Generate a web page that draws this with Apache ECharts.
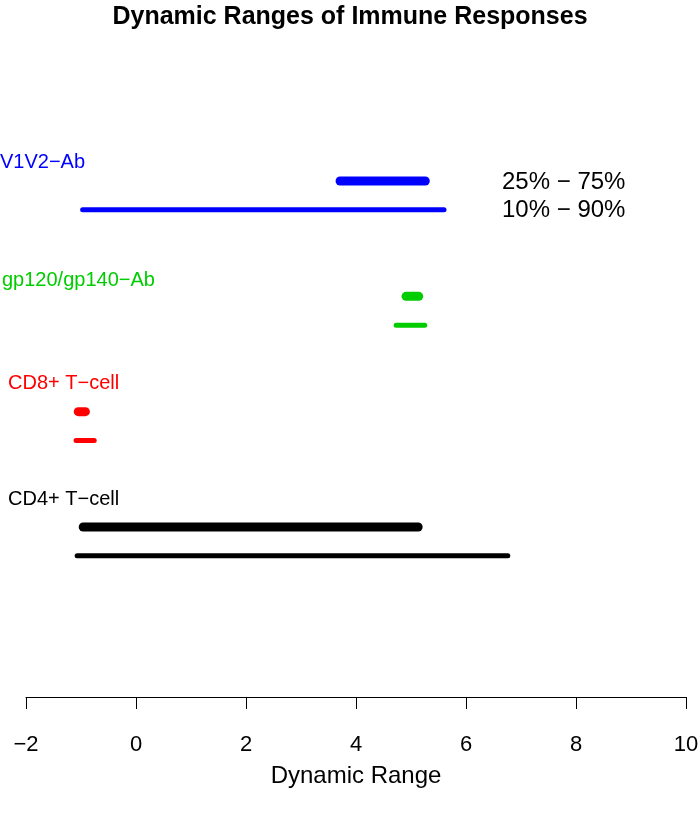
<!DOCTYPE html>
<html><head><meta charset="utf-8">
<script src="https://cdn.jsdelivr.net/npm/echarts@6/dist/echarts.min.js"></script>
<style>html,body{margin:0;padding:0;background:#fff}#c{width:700px;height:815px}</style>
</head><body><div id="c"></div>
<script>
const groups = ['V1V2−Ab', 'gp120/gp140−Ab', 'CD8+ T−cell', 'CD4+ T−cell'];
const colors = ['#0000FF', '#00CD00', '#FF0000', '#000000'];
const rowPos = [4, 3, 2, 1];
const q25 = [3.71, 4.91, -1.05, -0.96];
const q75 = [5.26, 5.14, -0.92, 5.13];
const q10 = [-0.97, 4.73, -1.09, -1.07];
const q90 = [5.60, 5.25, -0.76, 6.76];
const xTicks = [-2, 0, 2, 4, 6, 8, 10];
const legendTexts = ['25% − 75%', '10% − 90%'];

const FONT = '"Liberation Sans", Arial, Helvetica, sans-serif';
const chart = echarts.init(document.getElementById('c'), null, {renderer: 'canvas'});

function segSeries(name, lo, hi, offset, width) {
  return {
    type: 'custom', name: name, silent: true, clip: false,
    data: groups.map((g, i) => [lo[i], hi[i], rowPos[i] + offset, i]),
    renderItem: function (params, api) {
      const a = api.coord([api.value(0), api.value(2)]);
      const b = api.coord([api.value(1), api.value(2)]);
      return {type: 'line', shape: {x1: a[0], y1: a[1], x2: b[0], y2: b[1]},
        style: {stroke: colors[api.value(3)], lineWidth: width, lineCap: 'round'}};
    }
  };
}

const labelPos = [[0, 163], [2, 281], [8, 384], [8, 500]];
const graphics = groups.map((g, i) => ({
  type: 'text', left: labelPos[i][0], top: labelPos[i][1] - 11,
  style: {text: g, fill: colors[i], font: '20px ' + FONT}
}));
graphics.push({type: 'text', left: 502, top: 170, style: {text: legendTexts[0], fill: '#000', font: '24px ' + FONT}});
graphics.push({type: 'text', left: 502, top: 198, style: {text: legendTexts[1], fill: '#000', font: '24px ' + FONT}});

chart.setOption({
  animation: false,
  backgroundColor: '#fff',
  title: {text: 'Dynamic Ranges of Immune Responses', left: 'center', top: 0,
    textStyle: {fontFamily: FONT, fontWeight: 'bold', fontSize: 25, color: '#000'}},
  grid: {left: 26, right: 14, top: 8, bottom: 118, outerBoundsMode: 'none', containLabel: false},
  xAxis: {type: 'value', min: xTicks[0], max: xTicks[xTicks.length - 1], interval: 2,
    name: 'Dynamic Range', nameLocation: 'middle', nameGap: 67,
    nameTextStyle: {fontFamily: FONT, fontSize: 24, color: '#000'},
    axisLine: {show: true, onZero: false, lineStyle: {color: '#000', width: 1}},
    axisTick: {show: true, length: 12, lineStyle: {color: '#000', width: 1}},
    axisLabel: {fontFamily: FONT, fontSize: 22, color: '#000', margin: 37,
      formatter: v => (v < 0 ? '−' + Math.abs(v) : String(v))},
    splitLine: {show: false}},
  yAxis: {type: 'value', min: -0.474, max: 5.5, show: false, splitLine: {show: false}},
  graphic: graphics,
  series: [segSeries('25-75', q25, q75, 0, 9), segSeries('10-90', q10, q90, -0.25, 5)]
});
</script></body></html>
